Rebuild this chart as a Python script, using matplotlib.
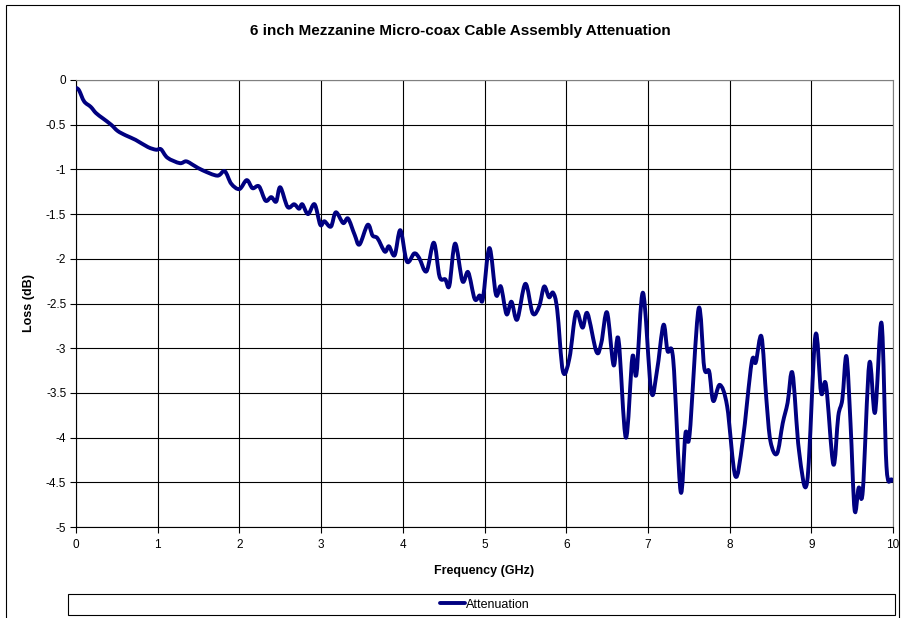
import numpy as np
import matplotlib
matplotlib.use("Agg")
import matplotlib.pyplot as plt
from matplotlib.patches import Rectangle, PathPatch
from matplotlib.path import Path
from matplotlib.lines import Line2D
from matplotlib.ticker import FormatStrFormatter

plt.rcParams['font.family'] = ['Liberation Sans', 'DejaVu Sans']
plt.rcParams['axes.unicode_minus'] = False

# values (GHz, dB)
freq = [0.01, 0.04, 0.10, 0.18, 0.245, 0.33, 0.43, 0.51, 0.61, 0.73, 0.88, 0.98, 1.04,
        1.12, 1.27, 1.35, 1.45, 1.55, 1.73, 1.82, 1.90, 2.00, 2.09, 2.16, 2.24, 2.32,
        2.39, 2.45, 2.50, 2.59, 2.67, 2.73, 2.77, 2.84, 2.92, 2.99, 3.04, 3.12, 3.18,
        3.27, 3.33, 3.41, 3.47, 3.57, 3.63, 3.69, 3.78, 3.83, 3.90, 3.97, 4.05, 4.14,
        4.20, 4.29, 4.38, 4.45, 4.52, 4.57, 4.64, 4.73, 4.80, 4.88, 4.94, 4.98, 5.06,
        5.14, 5.20, 5.27, 5.33, 5.40, 5.50, 5.59, 5.67, 5.73, 5.79, 5.84, 5.89, 5.96,
        6.04, 6.12, 6.20, 6.26, 6.37, 6.43, 6.50, 6.58, 6.64, 6.73, 6.81, 6.86, 6.94,
        7.04, 7.11, 7.19, 7.24, 7.31, 7.40, 7.46, 7.51, 7.62, 7.69, 7.75, 7.80, 7.88,
        7.97, 8.07, 8.16, 8.27, 8.32, 8.39, 8.45, 8.50, 8.58, 8.65, 8.71, 8.77, 8.85,
        8.95, 9.05, 9.12, 9.18, 9.27, 9.33, 9.38, 9.43, 9.48, 9.53, 9.58, 9.63, 9.71,
        9.78, 9.86, 9.92, 9.98, 10.0]
loss = [-0.09, -0.12, -0.24, -0.30, -0.37, -0.43, -0.50, -0.57, -0.62, -0.67, -0.75, -0.78, -0.775,
        -0.87, -0.93, -0.91, -0.96, -1.01, -1.07, -1.02, -1.16, -1.22, -1.12, -1.21, -1.19, -1.35,
        -1.31, -1.36, -1.20, -1.42, -1.39, -1.44, -1.39, -1.50, -1.39, -1.62, -1.58, -1.64, -1.48,
        -1.60, -1.55, -1.73, -1.84, -1.62, -1.74, -1.77, -1.92, -1.86, -1.96, -1.68, -2.03, -1.94,
        -1.99, -2.14, -1.82, -2.20, -2.23, -2.30, -1.83, -2.25, -2.15, -2.45, -2.41, -2.45, -1.88,
        -2.40, -2.31, -2.62, -2.48, -2.68, -2.28, -2.61, -2.53, -2.31, -2.43, -2.38, -2.57, -3.26,
        -3.11, -2.60, -2.77, -2.61, -3.04, -2.94, -2.60, -3.19, -2.90, -4.00, -3.10, -3.29, -2.38,
        -3.48, -3.26, -2.74, -3.03, -3.13, -4.60, -3.95, -3.97, -2.56, -3.22, -3.26, -3.59, -3.41,
        -3.65, -4.43, -4.04, -3.16, -3.16, -2.87, -3.57, -4.04, -4.18, -3.84, -3.61, -3.28, -4.15,
        -4.49, -2.86, -3.50, -3.41, -4.30, -3.76, -3.57, -3.09, -3.84, -4.81, -4.56, -4.60, -3.17,
        -3.72, -2.72, -4.32, -4.47, -4.47]

x_ticks = np.arange(0, 11, 1)
y_ticks = np.arange(-5, 0.01, 0.5)

LINE_COLOR = '#000080'
LINE_W = 2.8


def smooth_path(xs, ys):
    # Excel style "smoothed line": cubic bezier through every point
    pts = np.column_stack([xs, ys])
    n = len(pts)
    verts = [pts[0]]
    codes = [Path.MOVETO]
    for i in range(n - 1):
        p0 = pts[max(i - 1, 0)]
        p1 = pts[i]
        p2 = pts[i + 1]
        p3 = pts[min(i + 2, n - 1)]
        c1 = p1 + (p2 - p0) / 6.0
        c2 = p2 - (p3 - p1) / 6.0
        verts += [c1, c2, p2]
        codes += [Path.CURVE4] * 3
    return Path(verts, codes)


W, H = 901, 618
fig = plt.figure(figsize=(W / 100, H / 100), dpi=100)
ax = fig.add_axes([76 / W, 1 - 527 / H, (893 - 76) / W, (527 - 80) / H])

curve = PathPatch(smooth_path(freq, loss), fill=False, ec=LINE_COLOR, lw=LINE_W,
                  joinstyle='round', capstyle='round', zorder=3)
ax.add_patch(curve)

ax.set_xlim(0, 10)
ax.set_ylim(-5, 0)
ax.set_xticks(x_ticks)
ax.set_yticks(y_ticks)
ax.yaxis.set_major_formatter(FormatStrFormatter('%g'))
ax.grid(True, color='#000000', lw=0.8)
ax.tick_params(direction='out', length=4, width=0.8, labelsize=8.5, color='#000000')
ax.tick_params(axis='x', pad=5)
ax.tick_params(axis='y', pad=3)
for side in ['top', 'right']:
    ax.spines[side].set_color('#808080')
    ax.spines[side].set_linewidth(0.8)
for side in ['left', 'bottom']:
    ax.spines[side].set_color('#000000')
    ax.spines[side].set_linewidth(0.8)

ax.set_xlabel('Frequency (GHz)', fontsize=9, fontweight='bold', labelpad=10)
ax.set_ylabel('Loss (dB)', fontsize=9, fontweight='bold', labelpad=8)
fig.text(460 / W, 1 - 31 / H, '6 inch Mezzanine Micro-coax Cable Assembly Attenuation',
         ha='center', va='center', fontsize=11, fontweight='bold')

# outer chart border
fig.patches.append(Rectangle((6 / W, -0.05), (899 - 6) / W, 1 - 5 / H + 0.05,
                             transform=fig.transFigure, fill=False, ec='#000000', lw=0.8))

# legend box
fig.patches.append(Rectangle((68 / W, 1 - 615 / H), (895 - 68) / W, 21 / H,
                             transform=fig.transFigure, fill=False, ec='#000000', lw=0.8))
proxy = Line2D([], [], color=LINE_COLOR, lw=LINE_W, solid_capstyle='round')
fig.legend(handles=[proxy], labels=['Attenuation'], loc='center',
           bbox_to_anchor=(485 / W, 1 - 604.5 / H),
           frameon=False, fontsize=9, handlelength=2.0, handletextpad=0.1,
           borderpad=0, borderaxespad=0)

fig.savefig('out.png', dpi=100)
